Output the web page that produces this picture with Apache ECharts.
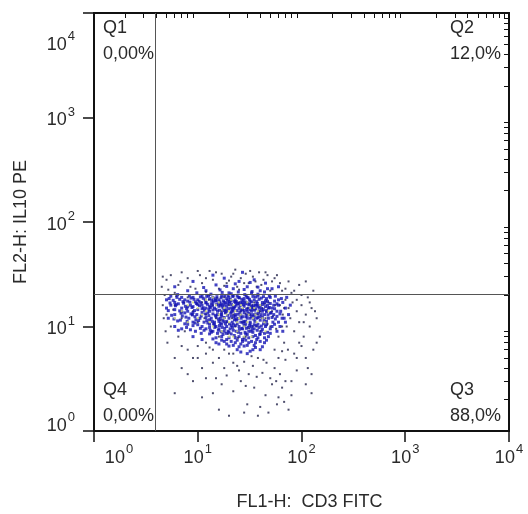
<!DOCTYPE html>
<html><head><meta charset="utf-8">
<script src="https://cdn.jsdelivr.net/npm/echarts@6/dist/echarts.min.js"></script>
<style>html,body{margin:0;padding:0;background:#fff}#c{width:528px;height:514px}</style>
</head><body><div id="c"></div>
<script>
// ---- data ----
const minorTicks = [2,3,4,5,6,7,8,9,20,30,40,50,60,70,80,90,200,300,400,500,600,700,800,900,2000,3000,4000,5000,6000,7000,8000,9000];
const gateX = 3.9;
const gateY = 20.5;
const xName = 'FL1-H:  CD3 FITC';
const yName = 'FL2-H: IL10 PE';
const quadNames = ['Q1', 'Q2', 'Q3', 'Q4'];
const quadPercents = ['0,00%', '12,0%', '88,0%', '0,00%'];

const bluePoints = [
[6,24],[9,27],[12,22],[15,25],[18,29],[22,23],[25,27],[30,24],[35,28],[40,22],[45,26],[52,23],[14,31],[27,33],[20,21],[33,21],[8,22],[60,24],
[5,18],[5.5,19.5],[6,17],[7,19],[7.5,18],[8,17.5],[9,19],[10,18],[11,19.5],[12,17],[13,18.5],[14,19],[15,17.5],[16,18],[17,19.5],[18,17],[19,18.5],[20,19],[21,17.5],[23,18],[24,19.5],[26,17],[28,18.5],[30,19],[32,17.5],[35,18],[38,19.5],[42,17],[46,18.5],[50,19],[55,17.5],[60,18],
[5,15],[5.5,16],[6,14.5],[6.5,16.5],[7,15],[8,14],[8.5,16],[9,15.5],[10,14.5],[11,16],[12,15],[13,14],[13.5,16.5],[14.5,15],[15.5,14],[16.5,16],[17.5,15],[18.5,14.5],[19.5,16.5],[21,15],[22,14],[23.5,16],[25,15],[27,14.5],[29,16.5],[31,15],[33,14],[36,16],[39,15],[43,14.5],[47,16],[52,15],[58,14],
[5.2,12],[6,13],[6.8,11.5],[7.5,13.5],[8.2,12],[9,11],[9.8,13],[10.5,12],[11.5,11],[12.5,13.5],[13.5,12],[14.5,11],[15.5,13],[16.5,12],[17.5,11.5],[18.5,13.5],[20,12],[21.5,11],[23,13],[24.5,12],[26,11],[28,13.5],[30,12],[32,11],[34,13],[37,12],[40,11.5],[44,13],[48,12],[53,11],[58,12.5],[65,12],
[6,10],[7,9.5],[8,10.5],[9.5,9],[11,10],[12,9.5],[13,10.5],[14,9],[15,10],[16,9.5],[17,10.5],[18,9],[19,10],[20.5,9.5],[22,10.5],[23.5,9],[25,10],[27,9.5],[29,10.5],[31,9],[33,10],[35,9.5],[38,10.5],[41,9],[45,10],[50,9.5],[55,10.5],
[9,8],[11,7.5],[13,8.5],[15,7],[17,8],[19,7.5],[21,8.5],[23,7],[25,8],[27,7.5],[29,8.5],[31,7],[34,8],[37,7.5],[40,8.5],[44,7],[48,8],
[20,6.5],[24,6],[28,6.5],[32,5.8],[36,6.3],[40,6],[30,5.5],[26,5.7],
[5.3,18.5],[6.3,19],[7.2,17.3],[8.6,18.7],[9.5,17.2],[10.6,19.2],[11.8,18],[12.7,19.8],[14.2,17.6],[15.3,19.3],[16.4,17.2],[18.2,19.6],[19.3,17.8],[21.7,19.4],[22.6,17.4],[25.2,18.8],[27.4,17.6],[29.3,19.7],[31.5,18.2],[34,19.4],[37,17.3],[41,18.7],[45,17.6],[49,19.5],
[5.2,14.2],[6.1,15.8],[7.3,16.7],[7.8,14.8],[8.8,15.2],[9.7,16.6],[10.4,15.8],[11.6,14.3],[12.4,16.3],[13.2,15.2],[14,16.8],[15,14.6],[16,15.6],[17,16.4],[18,14.2],[19,15.6],[20.3,16.8],[21.5,14.4],[22.8,15.5],[24.2,16.6],[26,14.4],[28,15.6],[30,16.8],[32,14.5],[34.5,15.8],[37.5,16.6],[41,14.8],[45,15.5],[50,16.6],[55,14.8],
[5.6,12.8],[6.4,11.3],[7.1,12.6],[7.9,11.2],[8.6,13.2],[9.4,12.4],[10.2,11.4],[11,13.6],[12,12.2],[13,11.6],[14,13.2],[15,12.4],[16,11.2],[17,13.4],[18,12.2],[19,11.2],[20.8,13.4],[22.2,12.4],[23.8,11.4],[25.5,13.6],[27,12.4],[29,11.2],[31,13.4],[33,12.4],[35.5,11.2],[38.5,13.4],[42,12.2],[46,11.2],[50,13.4],[56,11.8],[62,13.2],
[6.5,9.2],[7.5,10.6],[8.5,9.3],[10,10.4],[10.8,8.6],[12.5,10.8],[13.5,8.8],[14.5,10.4],[15.5,8.6],[16.5,10.8],[17.5,8.4],[18.5,10.6],[20,8.8],[21,10.2],[22.5,8.2],[24,10.6],[26,8.6],[28,10.2],[30,8.4],[32,10.6],[34,8.8],[36.5,10.2],[39.5,8.4],[43,10.6],[47,8.8],[52,10],[58,9],
[14,7.6],[16,6.8],[18,7.2],[20,7.8],[22,6.6],[24,7.4],[26,6.8],[28,7.8],[30,6.6],[33,7.2],[35,6.6],[38,7.8],[42,6.4],[46,7.4],[34,6],
[5.8,17.8],[6.7,18.2],[8.3,19.6],[9.2,18.2],[10.3,17.4],[11.3,18.6],[12.2,19.4],[13.6,17.8],[14.8,18.4],[16.8,18.8],[17.7,17.6],[19.6,19.8],[20.6,18.2],[22,19.6],[23.6,17.3],[24.8,19],[26.6,18.2],[28.6,17.2],[30.6,18.8],[33,17.2],[36,19.2],[39,18.2],[43,19.3],[47,17.4],
[5.4,16.8],[6.7,14.1],[7.6,15.6],[8.4,17.1],[9.3,14.2],[10.7,16.9],[11.3,15.1],[12.8,14.6],[13.8,15.7],[15.2,16.2],[16.2,14.3],[17.2,15.7],[18.6,16.8],[19.8,14.8],[21.2,16.2],[22.4,14.9],[23.2,17],[25.6,15.8],[27.6,16.2],[29.6,14.6],[31.6,16.4],[33.6,15.1],[35.4,14.3],[38.2,15.6],[42,16.2],[46,14.2],[49,15.2],
[5.9,11.8],[6.9,13.4],[7.7,12.3],[8.9,12.9],[9.6,11.6],[10.8,12.6],[11.8,13.2],[12.8,12.7],[13.8,11.2],[14.8,12.8],[15.8,11.8],[16.8,13],[17.8,11.1],[19.4,12.8],[21,12.6],[22.6,11.6],[24.4,13.1],[26.2,12],[27.8,11.2],[29.8,12.8],[32,12],[34.6,11.8],[36.2,13.2],[39.6,12.4],[43.5,11.4],[47.5,12.9],[52,12.2],
[7.8,9.8],[9,10.2],[11.5,9.2],[13,9.8],[14.2,10.6],[15.8,9.2],[16.8,8.9],[18.2,9.6],[19.6,9],[21.6,9.8],[23,10.2],[24.6,8.8],[26.6,9.6],[28.6,8.8],[30.6,9.8],[32.6,9],[35,10.4],[37.5,9.2],[41,10.1],[44,8.6],
[15,7.8],[17,7.4],[19,6.8],[21,7.2],[23,7.8],[25,6.4],[27,7.2],[29,7.4],[31,7.8],[36,7],[40,7.2],[44,7.8],
[60,16],[63,14],[66,17],[68,12],[70,15],[72,19],[75,13],[78,16],[62,10],[66,9],[70,11],[64,18.5],[58,16.5],[56,19.5],[54,13],[60,11],
[6.2,16.2],[7,13.8],[8,15.4],[9,13.6],[10,16.2],[11,14.8],[12,16.8],[13,15.6],[14,14.4],[15,17.8],[16,16.6],[17,12.6],[18,16],[19,14],[20,17.4],[21,13.8],[22,15.2],[23,12.6],[24,14.2],[25,16.4],[26,12.8],[27,16.8],[28,14.2],[29,12.4],[30,14],[31,16.2],[32,13],[33,15.6],[34,14.6],[35,12.6],[36,14.8],[37,16],[38,12.2],[39,14],[40,15.8],[41,13],[42,14],[44,16.8],[46,13.8],[48,15],[51,13.6],[54,16],
[9.4,10.8],[10.6,9.6],[12.2,11.4],[13.2,9.2],[14.6,9.8],[16.2,10.2],[17.2,9.8],[18.8,8.6],[20.2,10.6],[22,9.2],[23.2,11.8],[25.2,9.4],[27.4,10.8],[29.4,9.6],[31.6,10.2],[33.4,9.4],[36,8.2],[39,9.8],[42,9.4],[46,10.4],[50,8.6],
[6.4,20.2],[9.8,21],[13.4,20.4],[17.2,21.2],[21,20.6],[24.6,21.4],[28.4,20.2],[33.4,21.6],[38,20.4],[44,21.4],[11.4,23.6],[16.4,22.4],[19,24.2],[23,25.6],[28,22.6],[32,26.4],[38,23.8],[47,23]
];

const darkPoints = [
[5,28],[5.5,31],[6.5,25],[7,33],[8,29],[9.5,23],[10.5,31],[11,26],[13,34],[14,28],[16,23],[17,32],[19,26],[21,30],[23,35],[24,24],[26,29],[29,32],[31,26],[34,30],[37,24],[39,33],[43,28],[47,31],[50,22],[55,29],[62,26],[70,23],[80,21],[95,25],[110,27],[130,22],[6,21],[12,21.5],
[62,16],[66,13],[70,18],[72,10],[75,15],[78,12],[82,17],[85,9],[90,14],[95,11],[100,16],[105,8],[110,13],[120,10],[125,15],[140,12],[60,8],[68,7],[74,6],[55,6],
[8,6],[10,5],[12,5.5],[14,4.5],[16,5],[18,4],[20,5.5],[22,4.5],[25,3.8],[28,4.6],[31,3.5],[34,4.2],[38,5],[42,3.6],[46,4.5],[50,3.2],[55,4],[62,3.5],[70,4.8],[12,3.2],[17,2.8],[22,2.4],[26,3],[35,2.6],[45,2.2],[52,2.8],[60,2.1],[68,1.9],[75,1.6],[14,2.3],[30,1.8],[40,1.7],[48,1.5],[20,1.4],[6,2.3],[11,2.1],[125,3.5],[125,2.3],[7,4],[9,3],
[6,16],[7,12],[8,19],[9,14],[10,11],[11,17],[12,13],[13,20],[14,16],[15,12],[16,8],[17,14],[18,19],[19,11],[20,16],[22,13],[23,10],[25,17],[26,14],[28,11],[29,8],[30,15],[32,13],[34,10],[35,17],[38,13],[40,9],[42,15],[45,12],[48,17],[50,10],[52,14],[56,16],[5,13],[5.5,10],[6.5,8],[7.5,9],[10,6.5],[12,7],[14,6],[18,6],[22,5.5],
[5.2,22.5],[6.8,27],[8.5,24],[10,34],[12,29],[15,33],[18,24.5],[20,27.5],[22,32],[25,22.5],[28,26],[32,34],[36,27],[41,25],[45,33],[52,27],[58,31],[65,22],[75,27],
[5.8,14.5],[6.2,19.5],[7.4,17],[8.8,13],[9.8,16.5],[11.6,12],[12.8,18],[13.7,9],[15.4,18.8],[16.6,11.5],[18.4,13.6],[19.5,8.5],[21.4,12],[22.8,17],[24.4,7.8],[26.8,11],[29,13.2],[31.4,9.6],[33.5,16],[37,10],[40,14],[44,16.5],[47,10.6],[53,12.5],[57,9.5],[65,10],[68,15],
[9,5],[11,4],[13,6.3],[15,3.2],[19,3.4],[24,4.2],[29,2.7],[33,5.2],[37,3.3],[43,4.8],[57,3],[65,2.6],[80,3],[90,5],[100,6.5],[115,4],[140,7],
[4.6,16],[4.7,12],[4.8,20],[4.5,24],[4.6,30],[4.9,9],[5.1,7],[6,5],[7,6.5],[8,3.5],[90,18],[85,22],[100,20],[115,19],[120,17],[135,14],[105,11],[95,7],[85,5.5],[110,5],[150,8],[130,6],[60,5],[65,5.8],[70,3],[80,2.2],[90,3.8],[110,2.8],[58,1.8],[28,1.5],[38,1.4],[16,1.6]
];

const yellowPoints = [
[7,14],[9,17],[11,13],[12,18],[13,11],[15,16],[16,13],[17,9],[18,15],[20,11],[21,18],[22,8],[23,14],[25,12],[26,16],[28,10],[30,17],[31,13],[33,8],[35,15],[37,11],[40,16],[42,12],[45,9],[8,11],[10,15],[19,13],[24,9],[27,15],[36,13],
[6,12],[8,16],[10,12],[12,14],[14,10],[16,17],[18,12],[20,14],[22,16],[24,11],[26,13],[28,8],[30,11],[32,15],[34,12],[38,14],[44,11],[48,14],[14,19],[20,8]
];

// ---- chart ----
const FONT = 'Liberation Sans';
const TXT = '#2a2a2a';
const chart = echarts.init(document.getElementById('c'), null, {renderer: 'canvas'});

function expOf(v) { return Math.round(Math.log10(v)); }
const richBase = {
  b: {fontSize: 18, fontFamily: FONT, color: TXT, verticalAlign: 'bottom', padding: [6, 0, 0, 0]},
  s: {fontSize: 13, fontFamily: FONT, color: TXT, verticalAlign: 'top', padding: [0, 0, 0, 1]}
};

function logAxis() {
  return {
    type: 'log', logBase: 10, min: 1, max: 10000,
    splitLine: {show: false}, minorTick: {show: false}, minorSplitLine: {show: false},
    axisLine: {show: true, lineStyle: {color: '#111', width: 2}},
    axisTick: {show: true, length: 11, inside: false, lineStyle: {color: '#111', width: 1.5}}
  };
}
// companion axis (in decades) carrying the 2..9 minor ticks of each decade;
// declared on the opposite side and brought onto the main axis by onZero
function minorAxis(pos) {
  return {
    type: 'value', min: 0, max: 4, position: pos,
    axisLine: {onZero: true, lineStyle: {color: '#111', width: 2}},
    axisTick: {inside: true, customValues: minorTicks.map(function (v) { return Math.log10(v); }), length: 5, lineStyle: {color: '#111', width: 1}},
    splitLine: {lineStyle: {color: 'rgba(0,0,0,0)', width: 0}},
    axisLabel: {show: false}
  };
}

const option = {
  animation: false,
  backgroundColor: '#fff',
  grid: {left: 94, right: 19, top: 13, bottom: 83, show: true, borderColor: '#222', borderWidth: 1.5,
         outerBoundsMode: 'none'},
  xAxis: [
    Object.assign(logAxis(), {
      position: 'bottom',
      name: xName, nameLocation: 'middle', nameGap: 62,
      nameTextStyle: {fontSize: 18, fontFamily: FONT, color: TXT, padding: [0, 0, 0, 16]},
      axisLabel: {
        margin: 12,
        formatter: function (v) {
          const e = expOf(v);
          if (e === 0) return '{b0|10}{s|' + e + '}';
          return '{b|10}{s|' + e + '}';
        },
        rich: Object.assign({}, richBase, {
          b0: {fontSize: 18, fontFamily: FONT, color: TXT, verticalAlign: 'bottom', padding: [6, 0, 0, 50]}
        })
      }
    }),
    minorAxis('top')
  ],
  yAxis: [
    Object.assign(logAxis(), {
      position: 'left',
      name: yName, nameLocation: 'middle', nameGap: 64, nameRotate: 90,
      nameTextStyle: {fontSize: 18, fontFamily: FONT, color: TXT},
      axisLabel: {
        margin: 19,
        formatter: function (v) {
          const e = expOf(v);
          if (e === 4) return '{e| }\n{b|10}{s|' + e + '}';
          if (e === 0) return '{b|10}{s|' + e + '}\n{f| }';
          return '{b|10}{s|' + e + '}';
        },
        rich: Object.assign({}, richBase, {
          e: {fontSize: 1, lineHeight: 58, color: 'rgba(0,0,0,0)'},
          f: {fontSize: 1, lineHeight: 16, color: 'rgba(0,0,0,0)'}
        })
      }
    }),
    minorAxis('right')
  ],
  series: [
    {
      type: 'scatter', name: 'dark', xAxisIndex: 0, yAxisIndex: 0,
      data: darkPoints, symbol: 'rect', symbolSize: 2,
      itemStyle: {color: '#23234a'}, silent: true,
      markLine: {
        silent: true, symbol: 'none', label: {show: false},
        lineStyle: {color: '#555', width: 1, type: 'solid'},
        data: [{xAxis: gateX}, {yAxis: gateY}]
      }
    },
    {
      type: 'scatter', name: 'blue', xAxisIndex: 0, yAxisIndex: 0,
      data: bluePoints, symbol: 'rect', symbolSize: 3,
      itemStyle: {color: '#1414b4'}, silent: true
    },
    {
      type: 'scatter', name: 'yellow', xAxisIndex: 0, yAxisIndex: 0,
      data: yellowPoints, symbol: 'rect', symbolSize: 2,
      itemStyle: {color: '#d6e070'}, silent: true
    }
  ],
  graphic: [
    {type: 'text', left: 103, top: 15, style: {text: quadNames[0] + '\n' + quadPercents[0], font: '18px ' + FONT, fill: TXT, lineHeight: 26}},
    {type: 'text', left: 450, top: 15, style: {text: quadNames[1] + '\n' + quadPercents[1], font: '18px ' + FONT, fill: TXT, lineHeight: 26}},
    {type: 'text', left: 450, top: 377, style: {text: quadNames[2] + '\n' + quadPercents[2], font: '18px ' + FONT, fill: TXT, lineHeight: 26}},
    {type: 'text', left: 103, top: 377, style: {text: quadNames[3] + '\n' + quadPercents[3], font: '18px ' + FONT, fill: TXT, lineHeight: 26}}
  ]
};
chart.setOption(option);
</script>
</body></html>
